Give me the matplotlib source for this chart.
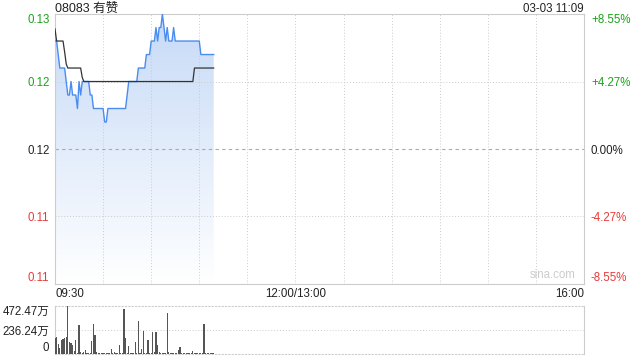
import numpy as np
import matplotlib
matplotlib.use("Agg")
import matplotlib.pyplot as plt
from matplotlib.patches import Polygon
from matplotlib.colors import LinearSegmentedColormap

plt.rcParams['font.family'] = ['Liberation Sans', 'Noto Sans CJK SC', 'DejaVu Sans']

title = "08083 有赞"
stamp = "03-03 11:09"
prev_close = 0.117
pct_levels = [8.55, 4.27, 0.0, -4.27, -8.55]
price_labels = ["0.13", "0.12", "0.12", "0.11", "0.11"]
pct_labels = ["+8.55%", "+4.27%", "0.00%", "-4.27%", "-8.55%"]
x_tick_minutes = [0, 150, 330]
x_tick_labels = ["09:30", "12:00/13:00", "16:00"]
vol_labels = ["472.47万", "236.24万", "0"]
vol_max = 472.47

# price per minute from 09:30
price = [0.125, 0.125, 0.124, 0.123, 0.123, 0.123, 0.123, 0.122, 0.121, 0.121,
         0.122, 0.121, 0.121, 0.121, 0.120, 0.122, 0.121, 0.122, 0.122, 0.122,
         0.122, 0.122, 0.121, 0.121, 0.120, 0.120, 0.120, 0.120, 0.120, 0.120,
         0.120, 0.119, 0.119, 0.120, 0.120, 0.120, 0.120, 0.120, 0.120, 0.120,
         0.120, 0.120, 0.120, 0.120, 0.120, 0.121, 0.122, 0.122, 0.122, 0.122,
         0.122, 0.122, 0.123, 0.123, 0.123, 0.123, 0.123, 0.124, 0.124, 0.124,
         0.125, 0.125, 0.125, 0.126, 0.125, 0.126, 0.126, 0.127, 0.126, 0.125,
         0.126, 0.125, 0.125, 0.125, 0.126, 0.125, 0.125, 0.125, 0.125, 0.125,
         0.125, 0.125, 0.125, 0.125, 0.125, 0.125, 0.125, 0.125, 0.125, 0.125,
         0.125, 0.124, 0.124, 0.124, 0.124, 0.124, 0.124, 0.124, 0.124, 0.124]

avg_price = [0.1259, 0.125, 0.125, 0.125, 0.125, 0.125, 0.1242, 0.1233, 0.123, 0.123,
             0.123, 0.123, 0.123, 0.123, 0.123, 0.123, 0.123, 0.1223, 0.122, 0.122] \
    + [0.122] * 67 + [0.123] * 13

volume = [157, 167, 94, 63, 135, 145, 160, 170, 472, 117,
          110, 88, 30, 142, 12, 283, 18, 8, 15, 40,
          8, 10, 10, 126, 300, 185, 20, 12, 8, 5,
          6, 10, 8, 5, 12, 47, 8, 15, 10, 5,
          90, 8, 10, 447, 157, 12, 79, 5, 8, 5,
          117, 8, 324, 12, 45, 230, 8, 5, 142, 8,
          5, 220, 20, 220, 85, 20, 8, 8, 8, 8,
          400, 20, 5, 10, 8, 12, 5, 40, 69, 8,
          5, 5, 5, 5, 5, 5, 30, 5, 5, 5,
          5, 5, 5, 300, 5, 5, 5, 5, 5, 5]

minutes = np.arange(len(price))
levels = [prev_close * (1 + p / 100) for p in pct_levels]
ymax, ymin = levels[0], levels[-1]

FS = 8.3
W, H = 640, 360
fig = plt.figure(figsize=(6.4, 3.6), dpi=100)
ax = fig.add_axes([55 / W, (H - 284) / H, 529 / W, 270 / H])
ax.set_xlim(0, 330)
ax.set_ylim(ymin, ymax)

# gradient fill
grad = np.linspace(0, 1, 256).reshape(-1, 1)
cmap = LinearSegmentedColormap.from_list("g", ["#ffffff", "#c6daf7"])
im = ax.imshow(grad, extent=[0, minutes[-1], ymin, ymax], origin="lower",
               cmap=cmap, aspect="auto", zorder=1, vmin=0, vmax=1)
poly_pts = [(minutes[0], ymin)] + list(zip(minutes, price)) + [(minutes[-1], ymin)]
clip = Polygon(poly_pts, closed=True, transform=ax.transData, facecolor="none", edgecolor="none")
ax.add_patch(clip)
im.set_clip_path(clip)

ax.plot(minutes, price, color="#4a8cf0", lw=1.0, zorder=3)
ax.plot(minutes, avg_price, color="#333333", lw=0.9, zorder=4)

# grid
for m in range(30, 330, 30):
    ax.axvline(m, color="#cccccc", lw=0.7, ls=(0, (1, 2)), zorder=2)
for lv in [levels[1], levels[3]]:
    ax.axhline(lv, color="#cccccc", lw=0.7, ls=(0, (1, 2)), zorder=2)
ax.axhline(levels[2], color="#aaaaaa", lw=0.8, ls=(0, (3, 3)), zorder=2)

for s in ax.spines.values():
    s.set_color("#cccccc")
    s.set_linewidth(0.8)

green, red, dark = "#1aa31a", "#e83a3a", "#222222"
colors = [green, green, dark, red, red]
ax.set_yticks(levels)
ax.set_yticklabels(price_labels, fontsize=FS)
ax.tick_params(axis="y", length=0, pad=4)
for i, t in enumerate(ax.get_yticklabels()):
    t.set_color(colors[i])
ax.get_yticklabels()[0].set_va("top")
ax.get_yticklabels()[-1].set_va("bottom")

ax2 = ax.twinx()
ax2.set_ylim(ymin, ymax)
ax2.set_yticks(levels)
ax2.set_yticklabels(pct_labels, fontsize=FS)
ax2.tick_params(axis="y", length=0, pad=5)
for i, t in enumerate(ax2.get_yticklabels()):
    t.set_color(colors[i])
ax2.get_yticklabels()[0].set_va("top")
ax2.get_yticklabels()[-1].set_va("bottom")
for s in ax2.spines.values():
    s.set_visible(False)

ax.set_xticks(x_tick_minutes)
ax.set_xticklabels(x_tick_labels, fontsize=FS, color=dark)
ax.tick_params(axis="x", length=0, pad=3)
xl = ax.get_xticklabels()
xl[0].set_ha("left")
xl[2].set_ha("right")

ax.text(0, 1.009, title, transform=ax.transAxes, fontsize=9, color=dark, ha="left", va="baseline")
ax.text(1, 1.009, stamp, transform=ax.transAxes, fontsize=FS, color=dark, ha="right", va="baseline")
ax.text(0.985, 0.012, "sina.com", transform=ax.transAxes, fontsize=FS, color="#cccccc",
        ha="right", va="bottom")

# volume panel
vx = fig.add_axes([55 / W, (H - 354) / H, 529 / W, 48 / H])
vx.set_xlim(0, 330)
vx.set_ylim(0, vol_max)
vx.bar(minutes, volume, width=0.75, color="#555555", zorder=3)
vx.axhline(vol_max / 2, color="#cccccc", lw=0.7, ls=(0, (1, 2)))
vx.spines["top"].set_linestyle((0, (1, 2)))
vx.spines["bottom"].set_linestyle((0, (1, 2)))
for s in vx.spines.values():
    s.set_color("#cccccc")
    s.set_linewidth(0.8)
vx.set_xticks([])
vx.set_yticks([vol_max, vol_max / 2, 0])
vx.set_yticklabels(vol_labels, fontsize=FS, color=dark)
vx.tick_params(axis="y", length=0, pad=4)
vl = vx.get_yticklabels()
vl[0].set_va("top")
vl[2].set_va("bottom")

fig.savefig("out.png", dpi=100, facecolor="white")
